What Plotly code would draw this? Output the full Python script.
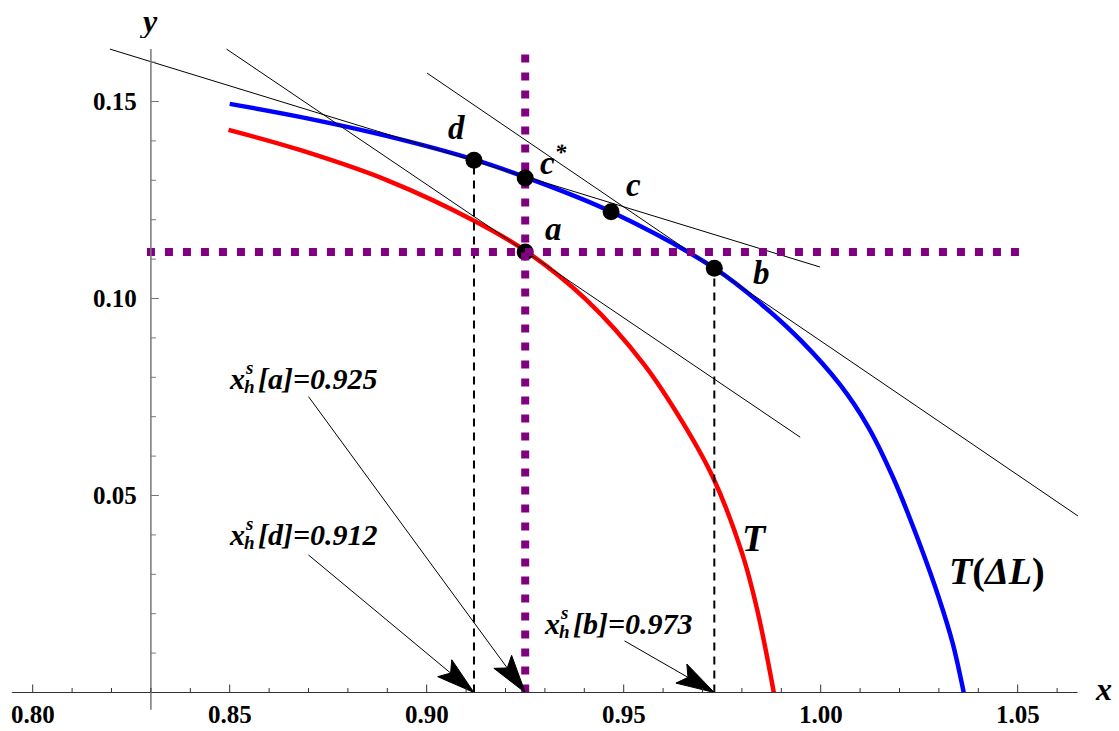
import math
import plotly.graph_objects as go

# curves
red_x = [0.8497, 0.8678, 0.890, 0.9125, 0.9255, 0.9406, 0.955, 0.965, 0.9727, 0.980, 0.984, 0.9881]
red_y = [0.1428, 0.1377, 0.1300, 0.1195, 0.1118, 0.0996, 0.0835, 0.0685, 0.0545, 0.0355, 0.0205, 0.0]
blue_x = [0.850, 0.8678, 0.890, 0.9125, 0.9255, 0.9468, 0.973, 0.985, 0.995, 1.005, 1.012, 1.0184, 1.0252, 1.030, 1.0335, 1.0363]
blue_y = [0.1494, 0.1461, 0.1412, 0.1351, 0.1306, 0.1220, 0.1077, 0.0985, 0.0893, 0.0780, 0.0675, 0.0545, 0.0375, 0.0240, 0.0125, 0.0]

# tangent lines (start / end)
tan_x0 = [0.8196, 0.8492, 0.9001]
tan_y0 = [0.1633, 0.1633, 0.1572]
tan_x1 = [0.9998, 0.9948, 1.0653]
tan_y1 = [0.1080, 0.0648, 0.0448]

# labelled points
pt_names = ["d", "c<sup>*</sup>", "c", "a", "b"]
pt_x = [0.912, 0.925, 0.9468, 0.925, 0.973]
pt_y = [0.1351, 0.1306, 0.1220, 0.1118, 0.1077]
lab_x = [0.9076, 0.9323, 0.9526, 0.9321, 0.9850]
lab_y = [0.1433, 0.1352, 0.1288, 0.1176, 0.1065]

# purple guides
h_guide_y = 0.1118
h_guide_x = [0.8290, 1.0506]
v_guide_x = 0.925
v_guide_y = [0.0, 0.1638]

# x_h^s annotations
ann_names = ["a", "d", "b"]
ann_vals = [0.925, 0.912, 0.973]
ann_tx = [0.8493, 0.8493, 0.9293]
ann_ty = [0.0798, 0.0400, 0.0174]
ann_ax = [0.8700, 0.8700, 0.9502]
ann_ay = [0.0751, 0.0349, 0.0131]

xticks_major = [0.80, 0.85, 0.90, 0.95, 1.00, 1.05]
yticks_major = [0.05, 0.10, 0.15]
y_axis_x = 0.83

FONT = "Liberation Serif"
PX = 3940.0  # pixels per data unit on both axes

fig = go.Figure()

fig.add_trace(go.Scatter(x=red_x, y=red_y, mode="lines", line=dict(color="#ff0000", width=4.5, shape="spline")))
fig.add_trace(go.Scatter(x=blue_x, y=blue_y, mode="lines", line=dict(color="#0000ff", width=4.5, shape="spline")))

for i in range(3):
    fig.add_trace(go.Scatter(x=[tan_x0[i], tan_x1[i]], y=[tan_y0[i], tan_y1[i]], mode="lines",
                             line=dict(color="black", width=1)))

# dashed drop lines from d and b
for i in [0, 4]:
    fig.add_trace(go.Scatter(x=[pt_x[i], pt_x[i]], y=[0, pt_y[i]], mode="lines",
                             line=dict(color="black", width=2, dash="8px,6px")))

# dot a goes beneath the guides
fig.add_trace(go.Scatter(x=[pt_x[3]], y=[pt_y[3]], mode="markers", marker=dict(color="black", size=17)))

fig.add_trace(go.Scatter(x=h_guide_x, y=[h_guide_y, h_guide_y], mode="lines",
                         line=dict(color="#800080", width=8, dash="8px,10px")))
fig.add_trace(go.Scatter(x=[v_guide_x, v_guide_x], y=v_guide_y, mode="lines",
                         line=dict(color="#800080", width=8, dash="8px,10px")))

fig.add_trace(go.Scatter(x=[pt_x[i] for i in [0, 1, 2, 4]], y=[pt_y[i] for i in [0, 1, 2, 4]],
                         mode="markers", marker=dict(color="black", size=17)))

# arrows: thin shaft plus a long notched head
head_len = 38 / PX
head_w = 11 / PX
for i in range(3):
    tx, ty = ann_vals[i], 0.0
    dx, dy = tx - ann_ax[i], ty - ann_ay[i]
    d = math.hypot(dx, dy)
    ux, uy = dx / d, dy / d
    nx, ny = -uy, ux
    bx, by = tx - head_len * ux, ty - head_len * uy
    mx, my = tx - 0.8 * head_len * ux, ty - 0.8 * head_len * uy
    fig.add_trace(go.Scatter(x=[ann_ax[i], mx], y=[ann_ay[i], my], mode="lines",
                             line=dict(color="black", width=1)))
    fig.add_trace(go.Scatter(x=[tx, bx + head_w * nx, mx, bx - head_w * nx, tx],
                             y=[ty, by + head_w * ny, my, by - head_w * ny, ty],
                             mode="lines", fill="toself", fillcolor="black",
                             line=dict(color="black", width=1)))

shapes = []
# axes
shapes.append(dict(type="line", x0=0.7947, x1=1.0652, y0=0, y1=0, line=dict(color="#333", width=1)))
shapes.append(dict(type="line", x0=y_axis_x, x1=y_axis_x, y0=-0.0044, y1=0.1633, line=dict(color="#777", width=1.5)))
for k in range(0, 27):
    t = round(0.80 + 0.01 * k, 2)
    ln = 8 if any(abs(t - m) < 1e-9 for m in xticks_major) else 4.5
    shapes.append(dict(type="line", xref="x", yref="y", x0=t, x1=t, ysizemode="pixel", yanchor=0,
                       y0=0, y1=ln, line=dict(color="#333", width=1)))
for k in range(1, 17):
    t = round(0.01 * k, 2)
    ln = 8 if any(abs(t - m) < 1e-9 for m in yticks_major) else 5
    shapes.append(dict(type="line", xref="x", yref="y", y0=t, y1=t, xsizemode="pixel", xanchor=y_axis_x,
                       x0=0, x1=ln, line=dict(color="#777", width=1)))

ann = []
for t in xticks_major:
    ann.append(dict(x=t, y=0, text=f"<b>{t:.2f}</b>", showarrow=False, yshift=-21.5, height=26,
                    font=dict(family=FONT, size=25, color="black")))
for t in yticks_major:
    ann.append(dict(x=y_axis_x, y=t, text=f"<b>{t:.2f}</b>", showarrow=False, xanchor="right", xshift=-12,
                    font=dict(family=FONT, size=25, color="black")))
ann.append(dict(x=1.0719, y=0.0010, text="<b><i>x</i></b>", showarrow=False, height=30,
                font=dict(family=FONT, size=32, color="black")))
ann.append(dict(x=0.8295, y=0.1704, text="<b><i>y</i></b>", showarrow=False, height=34,
                font=dict(family=FONT, size=32, color="black")))

for i in range(5):
    ann.append(dict(x=lab_x[i], y=lab_y[i], text=f"<b><i>{pt_names[i]}</i></b>", showarrow=False,
                    font=dict(family=FONT, size=33, color="black")))

ann.append(dict(x=0.9833, y=0.0392, text="<b><i>T</i></b>", showarrow=False,
                font=dict(family=FONT, size=38, color="black")))
ann.append(dict(x=1.0447, y=0.0306, text="<b><i>T</i>(<i>Δ</i><i>L</i>)</b>", showarrow=False,
                font=dict(family=FONT, size=38, color="black")))

# x_h^s[.] labels, built from pieces so the s and h stack
for i in range(3):
    base = dict(x=ann_tx[i], y=ann_ty[i], xanchor="left", showarrow=False)
    ann.append(dict(base, text="<b><i>x</i></b>", font=dict(family=FONT, size=30, color="black")))
    ann.append(dict(base, text="<b><i>s</i></b>", xshift=16, yshift=11, font=dict(family=FONT, size=19, color="black")))
    ann.append(dict(base, text="<b><i>h</i></b>", xshift=15, yshift=-8, font=dict(family=FONT, size=19, color="black")))
    ann.append(dict(base, text=f"<b><i>[{ann_names[i]}]=</i><i>{ann_vals[i]:.3f}</i></b>", xshift=29,
                    font=dict(family=FONT, size=30, color="black")))

W, H = 1119, 731
x_lo = 0.80 - 32.7 / PX
y_hi = 692.5 / PX
fig.update_layout(
    width=W, height=H,
    margin=dict(l=0, r=0, t=0, b=0),
    paper_bgcolor="white", plot_bgcolor="white",
    showlegend=False,
    xaxis=dict(range=[x_lo, x_lo + W / PX], visible=False),
    yaxis=dict(range=[y_hi - H / PX, y_hi], visible=False),
    shapes=shapes,
    annotations=ann,
)

# drop the page's default body margin so the figure fills the window exactly
fig.write_html("out.html", config={"displayModeBar": False},
               post_script="document.body.style.margin='0';document.body.style.overflow='hidden';")
